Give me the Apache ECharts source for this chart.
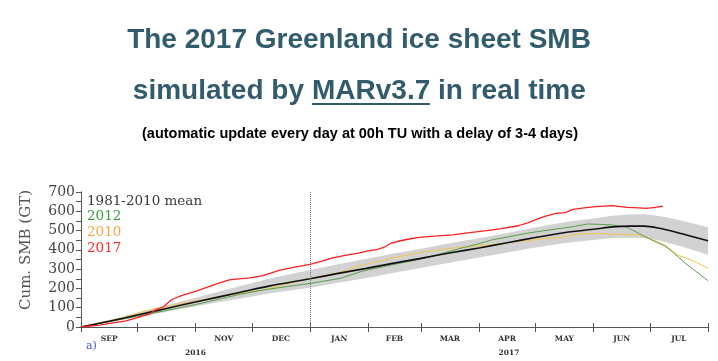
<!DOCTYPE html>
<html>
<head>
<meta charset="utf-8">
<script src="https://cdn.jsdelivr.net/npm/echarts@6/dist/echarts.min.js"></script>
<style>html,body{margin:0;padding:0;background:#fff}#c{width:718px;height:361px}</style>
</head>
<body>
<div id="c"></div>
<script>
// ---- data (days since 1 Sep 2016, cumulative SMB in GT) ----
const monthStarts = [0, 30, 61, 91, 122, 153, 181, 212, 242, 273, 303, 334];
const monthMids = [15, 45.5, 76, 106.5, 137.5, 167, 196.5, 227, 257.5, 288, 318.5];
const monthNames = ['SEP', 'OCT', 'NOV', 'DEC', 'JAN', 'FEB', 'MAR', 'APR', 'MAY', 'JUN', 'JUL'];
const yearPos = [61, 228];
const yearNames = ['2016', '2017'];

const meanDays = [0, 15, 30, 45, 61, 85, 100, 122, 137, 152, 166, 181, 197, 212, 227, 242, 258, 274, 283, 292, 300, 308, 318, 326, 334];
const meanVals = [0, 30, 62, 95, 130, 180, 212, 250, 278, 304, 330, 356, 385, 410, 437, 464, 490, 508, 519, 523, 523, 512, 489, 468, 447];
const bandHalf = [0, 6, 12, 17, 22, 32, 38, 46, 48, 50, 50, 50, 50, 50, 51, 52, 54, 56, 58, 60, 62, 64, 67, 69, 72];

const redDays = [0, 10, 16, 24, 30, 36, 40, 44, 48, 52, 56, 61, 67, 73, 79, 84, 90, 97, 106, 114, 122, 128, 133, 140, 147, 153, 158, 162, 165, 168, 174, 180, 190, 198, 206, 215, 224, 233, 238, 244, 248, 253, 258, 262, 268, 274, 283, 291, 297, 301, 306, 310];
const redVals = [0, 10, 20, 32, 48, 65, 90, 105, 140, 157, 170, 185, 205, 226, 244, 250, 255, 266, 295, 310, 325, 340, 356, 370, 382, 395, 403, 416, 434, 442, 455, 465, 472, 478, 488, 498, 510, 525, 540, 563, 576, 589, 593, 610, 618, 624, 629, 620, 618, 615, 620, 627];

const greenDays = [0, 15, 30, 45, 61, 75, 85, 97, 110, 122, 138, 150, 165, 180, 190, 201, 212, 219, 228, 237, 245, 253, 262, 270, 277, 283, 291, 297, 304, 311, 316, 322, 329, 334];
const greenVals = [0, 28, 56, 85, 116, 148, 170, 192, 210, 226, 252, 290, 321, 350, 375, 405, 432, 452, 468, 485, 497, 508, 520, 534, 532, 529, 517, 486, 451, 420, 382, 330, 278, 240];

const yellowDays = [0, 10, 20, 34, 50, 61, 75, 85, 97, 106, 122, 138, 150, 165, 180, 197, 215, 236, 247, 253, 265, 274, 283, 297, 304, 311, 318, 327, 334];
const yellowVals = [0, 22, 42, 83, 115, 135, 160, 175, 192, 215, 252, 283, 321, 356, 385, 408, 425, 446, 458, 462, 482, 485, 482, 477, 455, 425, 373, 339, 304];

const legendItems = ['1981-2010 mean', '2012', '2010', '2017'];
const legendColors = ['#3a3a3a', '#3f9a3f', '#f5a64a', '#ff2a2a'];

// ---- build ----
const pairs = (d, v) => d.map((x, i) => [x, v[i]]);
const bandUpper = meanDays.map((d, i) => [d, meanVals[i] + bandHalf[i]]);
const bandLower = meanDays.map((d, i) => [d, meanVals[i] - bandHalf[i]]);

const serif = 'DejaVu Serif';
const chart = echarts.init(document.getElementById('c'), null, { renderer: 'canvas' });

const axisColor = '#555';
const titleFont = 'bold 28px "Liberation Sans", Arial, sans-serif';
const titleColor = '#335b6e';
const option = {
  animation: false,
  backgroundColor: '#fff',
  grid: { left: 81, right: 10, top: 192, bottom: 34, containLabel: false },
  xAxis: [
    {
      type: 'value', min: 0, max: 334, position: 'bottom',
      axisLine: { show: true, lineStyle: { color: axisColor, type: 'dashed', width: 1 } },
      axisTick: { show: true, inside: false, length: 5, customValues: monthStarts, lineStyle: { color: axisColor } },
      axisLabel: {
        show: true, customValues: monthMids, margin: 8,
        fontFamily: serif, fontWeight: 'bold', fontSize: 7.5, color: '#333',
        formatter: v => { let k = 0, b = 1e9; monthMids.forEach((m, i) => { if (Math.abs(m - v) < b) { b = Math.abs(m - v); k = i; } }); return monthNames[k]; }
      },
      splitLine: { show: false }
    },
    {
      type: 'value', min: 0, max: 334, position: 'top',
      axisLine: { show: true, lineStyle: { color: axisColor, width: 1 } },
      axisTick: { show: true, inside: false, length: 4, customValues: monthStarts, lineStyle: { color: axisColor } },
      axisLabel: { show: false },
      splitLine: { show: false }
    },
    {
      type: 'value', min: 0, max: 334, position: 'bottom',
      axisLine: { show: false }, axisTick: { show: false },
      axisLabel: {
        show: true, customValues: yearPos, margin: 22,
        fontFamily: serif, fontWeight: 'bold', fontSize: 7.5, color: '#333',
        formatter: v => yearNames[Math.abs(v - yearPos[0]) < Math.abs(v - yearPos[1]) ? 0 : 1]
      },
      splitLine: { show: false }
    }
  ],
  yAxis: [
    {
      type: 'value', min: 0, max: 700, interval: 100, position: 'left',
      axisLine: { show: true, lineStyle: { color: axisColor, width: 1 } },
      axisTick: { show: true, inside: false, length: 4, lineStyle: { color: axisColor } },
      minorTick: { show: true, splitNumber: 2, length: 3, lineStyle: { color: axisColor } },
      axisLabel: { show: true, margin: 6, fontFamily: serif, fontSize: 14, color: '#444' },
      splitLine: { show: false }
    },
    {
      type: 'value', min: 0, max: 700, interval: 50, position: 'right',
      axisLine: { show: true, lineStyle: { color: axisColor, width: 1 } },
      axisTick: { show: true, inside: true, length: 5, lineStyle: { color: axisColor } },
      axisLabel: { show: false },
      splitLine: { show: false }
    }
  ],
  series: [
    {
      name: 'band', type: 'custom', silent: true, z: 1,
      data: [[0, 0]], encode: { x: 0, y: 1 },
      renderItem: (params, api) => {
        if (params.dataIndex !== 0) return null;
        const pts = bandUpper.map(p => api.coord(p)).concat(bandLower.slice().reverse().map(p => api.coord(p)));
        return { type: 'polygon', shape: { points: pts }, style: { fill: '#d2d2d2', stroke: null } };
      },
      markLine: {
        symbol: 'none', silent: true, label: { show: false },
        lineStyle: { type: 'dotted', color: '#777', width: 1 },
        data: [{ xAxis: 122 }]
      }
    },
    {
      name: '2010', type: 'line', data: pairs(yellowDays, yellowVals), symbol: 'none',
      lineStyle: { color: '#f0c64e', width: 1 }, z: 3
    },
    {
      name: '2012', type: 'line', data: pairs(greenDays, greenVals), symbol: 'none',
      lineStyle: { color: '#5a9e4a', width: 1 }, z: 3
    },
    {
      name: '1981-2010 mean', type: 'line', data: pairs(meanDays, meanVals), symbol: 'none', smooth: 0.3,
      lineStyle: { color: '#111', width: 1.6 }, z: 4
    },
    {
      name: '2017', type: 'line', data: pairs(redDays, redVals), symbol: 'none',
      lineStyle: { color: '#ff2020', width: 1.3 }, z: 5
    }
  ],
  graphic: [
    { type: 'text', left: 'center', top: 26, style: { text: 'The 2017 Greenland ice sheet SMB', font: titleFont, fill: titleColor } },
    { type: 'text', x: 304, y: 91, style: { text: 'simulated by', font: titleFont, fill: titleColor, align: 'right', verticalAlign: 'middle' } },
    { type: 'text', x: 312, y: 91, style: { text: 'MARv3.7', font: titleFont, fill: titleColor, align: 'left', verticalAlign: 'middle' } },
    { type: 'line', shape: { x1: 312, y1: 104, x2: 430, y2: 104 }, style: { stroke: titleColor, lineWidth: 2 } },
    { type: 'text', x: 438, y: 91, style: { text: 'in real time', font: titleFont, fill: titleColor, align: 'left', verticalAlign: 'middle' } },
    { type: 'text', x: 360, y: 134, style: { text: '(automatic update every day at 00h TU with a delay of 3-4 days)', font: 'bold 14.5px "Liberation Sans", Arial, sans-serif', fill: '#000', align: 'center', verticalAlign: 'middle' } },
    { type: 'text', x: 26, y: 250, rotation: Math.PI / 2, style: { text: 'Cum. SMB (GT)', font: '15px "DejaVu Serif", serif', fill: '#555', align: 'center', verticalAlign: 'middle' } },
    { type: 'text', x: 86, y: 346, style: { text: 'a)', font: '11px "DejaVu Serif", serif', fill: '#3b4fe0', align: 'left', verticalAlign: 'middle' } }
  ].concat(legendItems.map((t, i) => ({
    type: 'text', x: 87, y: [201.5, 216.5, 232.5, 248][i],
    style: { text: t, font: '13.5px "DejaVu Serif", serif', fill: legendColors[i], align: 'left', verticalAlign: 'middle' }
  })))
};
chart.setOption(option);
</script>
</body>
</html>
